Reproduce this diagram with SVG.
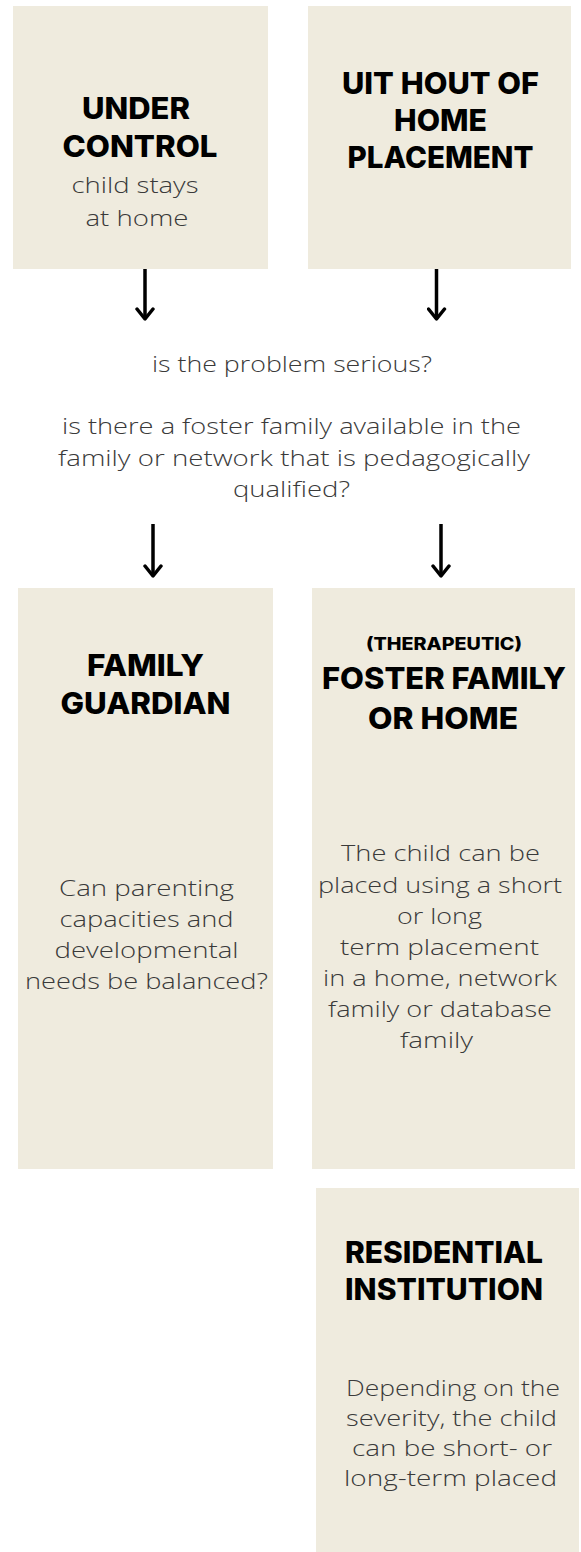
<svg xmlns="http://www.w3.org/2000/svg" width="581" height="1552" viewBox="0 0 581 1552">
<style>
.box{fill:#EFEBDE}
.h{font-family:Inter,"Open Sans","Liberation Sans",sans-serif;font-weight:800;fill:#000;text-anchor:middle}
.b{font-family:"Open Sans","Liberation Sans",sans-serif;font-weight:300;fill:#3a3a3a;text-anchor:middle;font-size:22.5px}
.arr{stroke:#000;stroke-width:3.5;fill:none}
</style>
<defs>
<marker id="ah" viewBox="0 0 14 20" refX="12" refY="10" markerWidth="14" markerHeight="20" markerUnits="userSpaceOnUse" orient="auto">
<path d="M2,2 L12,10 L2,18" fill="none" stroke="#000" stroke-width="3.5" stroke-linejoin="round" stroke-linecap="round"/>
</marker>
</defs>
<rect width="581" height="1552" fill="#fff"/>
<g id="under-control">
<rect class="box" x="13" y="6" width="255" height="263"/>
<text class="h" x="136" y="119" font-size="30" textLength="108" lengthAdjust="spacingAndGlyphs">UNDER</text>
<text class="h" x="140" y="157" font-size="30" textLength="155" lengthAdjust="spacingAndGlyphs">CONTROL</text>
<text class="b" x="135" y="193" textLength="127" lengthAdjust="spacingAndGlyphs">child stays</text>
<text class="b" x="137" y="226" textLength="103" lengthAdjust="spacingAndGlyphs">at home</text>
</g>
<g id="out-of-home">
<rect class="box" x="308" y="6" width="263" height="263"/>
<text class="h" x="440.5" y="94" font-size="30" textLength="197" lengthAdjust="spacingAndGlyphs">UIT HOUT OF</text>
<text class="h" x="440.5" y="131" font-size="30" textLength="93" lengthAdjust="spacingAndGlyphs">HOME</text>
<text class="h" x="440.5" y="168" font-size="30" textLength="186" lengthAdjust="spacingAndGlyphs">PLACEMENT</text>
</g>
<g id="question">
<text class="b" x="292" y="372" textLength="280" lengthAdjust="spacingAndGlyphs">is the problem serious?</text>
<text class="b" x="291.5" y="434" textLength="459" lengthAdjust="spacingAndGlyphs">is there a foster family available in the</text>
<text class="b" x="294" y="466" textLength="472" lengthAdjust="spacingAndGlyphs">family or network that is pedagogically</text>
<text class="b" x="291.5" y="497" textLength="117" lengthAdjust="spacingAndGlyphs">qualified?</text>
</g>
<g id="family-guardian">
<rect class="box" x="18" y="588" width="255" height="581"/>
<text class="h" x="145.5" y="676" font-size="30" textLength="117" lengthAdjust="spacingAndGlyphs">FAMILY</text>
<text class="h" x="145.5" y="714" font-size="30" textLength="170" lengthAdjust="spacingAndGlyphs">GUARDIAN</text>
<text class="b" x="146.5" y="896" textLength="175" lengthAdjust="spacingAndGlyphs">Can parenting</text>
<text class="b" x="146.5" y="927" textLength="174" lengthAdjust="spacingAndGlyphs">capacities and</text>
<text class="b" x="146.5" y="958" textLength="184" lengthAdjust="spacingAndGlyphs">developmental</text>
<text class="b" x="146.5" y="989" textLength="243" lengthAdjust="spacingAndGlyphs">needs be balanced?</text>
</g>
<g id="foster-family">
<rect class="box" x="312" y="588" width="263" height="581"/>
<text class="h" x="444" y="650" font-size="17" textLength="156" lengthAdjust="spacingAndGlyphs">(THERAPEUTIC)</text>
<text class="h" x="444" y="689" font-size="30" textLength="244" lengthAdjust="spacingAndGlyphs">FOSTER FAMILY</text>
<text class="h" x="443" y="729" font-size="30" textLength="150" lengthAdjust="spacingAndGlyphs">OR HOME</text>
<text class="b" x="440.5" y="861" textLength="199" lengthAdjust="spacingAndGlyphs">The child can be</text>
<text class="b" x="440" y="893" textLength="244" lengthAdjust="spacingAndGlyphs">placed using a short</text>
<text class="b" x="439.5" y="924" textLength="85" lengthAdjust="spacingAndGlyphs">or long</text>
<text class="b" x="439.5" y="955" textLength="199" lengthAdjust="spacingAndGlyphs">term placement</text>
<text class="b" x="440" y="986" textLength="234" lengthAdjust="spacingAndGlyphs">in a home, network</text>
<text class="b" x="440" y="1017" textLength="224" lengthAdjust="spacingAndGlyphs">family or database</text>
<text class="b" x="436.5" y="1048" textLength="73" lengthAdjust="spacingAndGlyphs">family</text>
</g>
<g id="residential">
<rect class="box" x="316" y="1188" width="263" height="364"/>
<text class="h" x="444" y="1263" font-size="30" textLength="198" lengthAdjust="spacingAndGlyphs">RESIDENTIAL</text>
<text class="h" x="444" y="1300" font-size="30" textLength="198" lengthAdjust="spacingAndGlyphs">INSTITUTION</text>
<text class="b" x="453" y="1396" textLength="214" lengthAdjust="spacingAndGlyphs">Depending on the</text>
<text class="b" x="451.5" y="1426" textLength="211" lengthAdjust="spacingAndGlyphs">severity, the child</text>
<text class="b" x="452" y="1456" textLength="200" lengthAdjust="spacingAndGlyphs">can be short- or</text>
<text class="b" x="450.5" y="1486" textLength="213" lengthAdjust="spacingAndGlyphs">long-term placed</text>
</g>
<g id="connectors">
<line class="arr" x1="145" y1="269" x2="145" y2="319" marker-end="url(#ah)"/>
<line class="arr" x1="436.5" y1="269" x2="436.5" y2="319" marker-end="url(#ah)"/>
<line class="arr" x1="153" y1="524" x2="153" y2="576" marker-end="url(#ah)"/>
<line class="arr" x1="441" y1="524" x2="441" y2="576" marker-end="url(#ah)"/>
</g>
</svg>
